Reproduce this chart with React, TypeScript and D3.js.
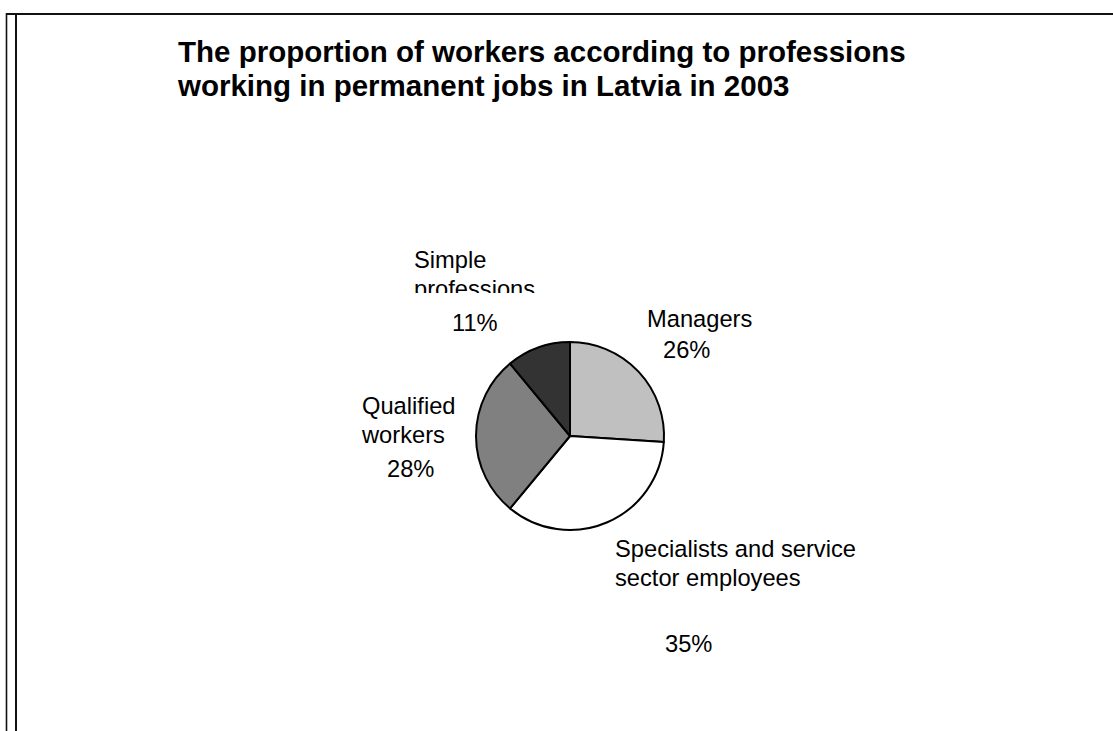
import React from "react";
import * as d3 from "d3";

const categories = [
  "Managers",
  "Specialists and service sector employees",
  "Qualified workers",
  "Simple professions",
];
const values = [26, 35, 28, 11];
const percentLabels = ["26%", "35%", "28%", "11%"];
const titleLines = [
  "The proportion of workers according to professions",
  "working in permanent jobs in Latvia in 2003",
];

// layout (not data)
const fills = ["#c0c0c0", "#ffffff", "#808080", "#333333"];
const nameLines = [
  ["Managers"],
  ["Specialists and service", "sector employees"],
  ["Qualified", "workers"],
  ["Simple", "professions"],
];
const labelLayout = [
  { x: 647, y: 327, px: 663, py: 358 },
  { x: 615, y: 557, px: 665, py: 652 },
  { x: 362, y: 414, px: 387, py: 477 },
  { x: 414, y: 268, px: 452, py: 331 },
];

export default function App() {
  const W = 1113;
  const H = 731;
  const cx = 570;
  const cy = 436;
  const r = 94;
  const pie = d3.pie<number>().sort(null).value((d) => d)(values);
  const arc = d3.arc<d3.PieArcDatum<number>>().innerRadius(0).outerRadius(r);
  const font = "'Liberation Sans', Arial, sans-serif";
  return (
    <svg
      width={W}
      height={H}
      style={{ position: "absolute", left: 0, top: 0, background: "#fff" }}
      fontFamily={font}
    >
      <defs>
        <clipPath id="clipSimple">
          <rect x={0} y={0} width={W} height={293} />
        </clipPath>
      </defs>
      <rect x={0} y={0} width={W} height={H} fill="#fff" />
      {/* frame */}
      <line x1={6} y1={14} x2={W} y2={14} stroke="#111" strokeWidth={2} />
      <line x1={6.5} y1={13} x2={6.5} y2={H} stroke="#111" strokeWidth={1.6} />
      <line x1={16} y1={13} x2={16} y2={H} stroke="#111" strokeWidth={2} />
      {/* title */}
      {titleLines.map((t, i) => (
        <text key={i} x={178} y={62 + i * 34} fontSize={29.5} fontWeight="bold" fill="#000">
          {t}
        </text>
      ))}
      {/* pie */}
      <g transform={`translate(${cx},${cy})`}>
        {pie.map((p, i) => (
          <path key={i} d={arc(p) || ""} fill={fills[i]} stroke="#000" strokeWidth={2} strokeLinejoin="round" />
        ))}
      </g>
      {/* labels */}
      {categories.map((c, i) => {
        const L = labelLayout[i];
        return (
          <g key={c} fontSize={23.7} fill="#000" clipPath={i === 3 ? "url(#clipSimple)" : undefined}>
            {nameLines[i].map((ln, j) => (
              <text key={j} x={L.x} y={L.y + j * 28.5}>
                {ln}
              </text>
            ))}
          </g>
        );
      })}
      {categories.map((c, i) => {
        const L = labelLayout[i];
        return (
          <text key={"p" + c} x={L.px} y={L.py} fontSize={23.7} fill="#000">
            {percentLabels[i]}
          </text>
        );
      })}
    </svg>
  );
}
